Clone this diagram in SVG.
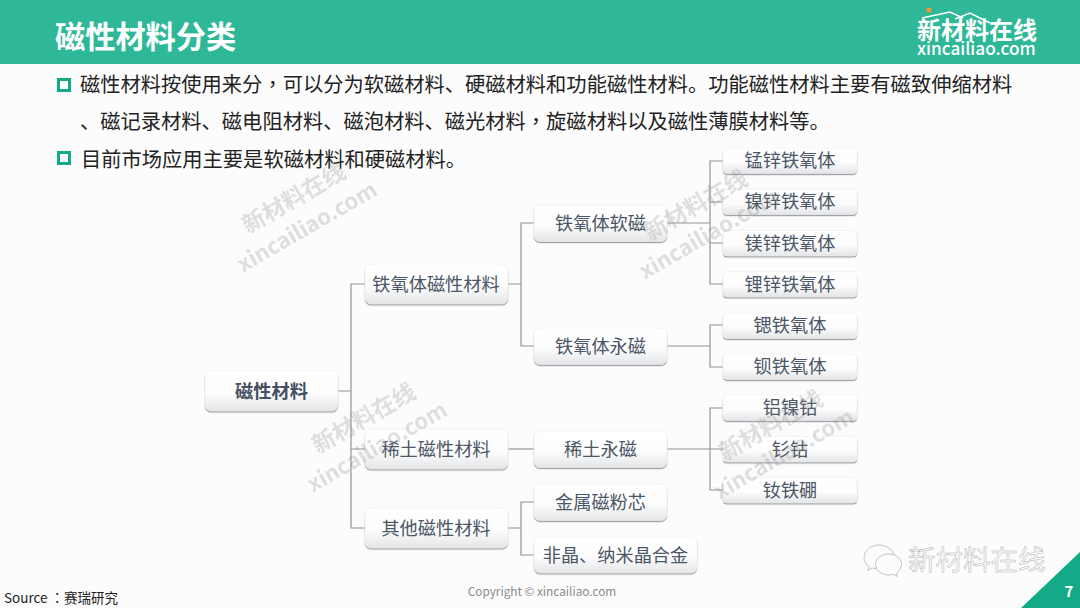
<svg xmlns="http://www.w3.org/2000/svg" width="1080" height="608" viewBox="0 0 1080 608">
<style>
text{font-family:"Noto Sans CJK SC","Noto Sans",sans-serif}
.box{fill:url(#ng);stroke:#eeeeee;stroke-width:.6;filter:url(#sh)}
.lb{font-size:18.2px;fill:#4b5666;text-anchor:middle}
.body{font-size:20.27px;fill:#222222}
.tc{font-family:"Noto Sans CJK TC",sans-serif}
.bul{fill:none;stroke:#14a987;stroke-width:3}
.con{fill:none;stroke:#8e939a;stroke-width:1.2}
.wm{font-weight:700;fill:#8f8f8f;opacity:.27}
</style>
<defs>
<linearGradient id="ng" x1="0" y1="0" x2="0" y2="1"><stop offset="0" stop-color="#ffffff"/><stop offset=".55" stop-color="#fdfdfd"/><stop offset="1" stop-color="#e4e5e7"/></linearGradient>
<filter id="sh" x="-5%" y="-10%" width="110%" height="125%"><feDropShadow dx="0" dy="1.2" stdDeviation=".7" flood-color="#555b66" flood-opacity=".65"/></filter>
</defs>
<rect width="1080" height="608" fill="#fcfcfc"/>
<g id="header">
<rect width="1080" height="64" fill="#2eb897"/>
<text x="55" y="48" font-size="30.2" font-weight="700" fill="#ffffff">磁性材料分类</text>
</g>
<g id="logo">
<path d="M922 18L950 12L963 18M955 19L970 13L990 23" fill="none" stroke="#ffffff" stroke-width="1.4"/>
<circle cx="929" cy="10" r="2.6" fill="#ee9a2c"/>
<text x="917" y="39" font-size="24" font-weight="700" fill="#ffffff">新材料在线</text>
<text x="917" y="55" font-size="17.200" font-weight="500" fill="#ffffff" font-family="'Noto Sans',sans-serif">xincailiao.com</text>
</g>
<g id="body-text">
<rect class="bul" x="58.500" y="79.500" width="11" height="11"/>
<text class="body" x="80" y="92">磁性材料按使用来分<tspan class="tc">，</tspan>可以分为软磁材料、硬磁材料和功能磁性材料。功能磁性材料主要有磁致伸缩材料</text>
<text class="body" x="80" y="129">、磁记录材料、磁电阻材料、磁泡材料、磁光材料<tspan class="tc">，</tspan>旋磁材料以及磁性薄膜材料等。</text>
<rect class="bul" x="58.500" y="152.500" width="11" height="11"/>
<text class="body" x="81" y="167">目前市场应用主要是软磁材料和硬磁材料。</text>
</g>
<g id="connectors">
<path class="con" d="M338 391H351M365 284H351V528H365M351 449H365"/>
<path class="con" d="M508 284H521M534 223H521V346H534"/>
<path class="con" d="M508 449H534"/>
<path class="con" d="M508 528H521M534 502H521V555H534"/>
<path class="con" d="M667 223H710M723 161H710V284H723M710 202H723M710 243H723"/>
<path class="con" d="M667 346H710M723 325H710V367H723"/>
<path class="con" d="M667 449H723M723 408H710V490H723"/>
</g>
<g id="n-root"><rect class="box" x="205" y="371" width="133" height="40" rx="6"/><text class="lb" x="271.500" y="398" font-weight="700" style="fill:#465063">磁性材料</text></g>
<g id="n-ferrite"><rect class="box" x="365" y="264" width="143" height="40" rx="6"/><text class="lb" x="436" y="291">铁氧体磁性材料</text></g>
<g id="n-rare"><rect class="box" x="365" y="429" width="143" height="40" rx="6"/><text class="lb" x="436" y="456">稀土磁性材料</text></g>
<g id="n-other"><rect class="box" x="365" y="508" width="143" height="40" rx="6"/><text class="lb" x="436" y="535">其他磁性材料</text></g>
<g id="n-soft"><rect class="box" x="534" y="205" width="133" height="36.500" rx="6"/><text class="lb" x="600.500" y="230">铁氧体软磁</text></g>
<g id="n-hard"><rect class="box" x="534" y="328" width="133" height="36.500" rx="6"/><text class="lb" x="600.500" y="353">铁氧体永磁</text></g>
<g id="n-rarehard"><rect class="box" x="534" y="431" width="133" height="36.500" rx="6"/><text class="lb" x="600.500" y="456">稀土永磁</text></g>
<g id="n-powder"><rect class="box" x="534" y="484" width="133" height="36.500" rx="6"/><text class="lb" x="600.500" y="509">金属磁粉芯</text></g>
<g id="n-amorph"><rect class="box" x="534" y="537" width="163" height="36" rx="6"/><text class="lb" x="615.500" y="562">非晶、纳米晶合金</text></g>
<g id="n-mnzn"><rect class="box" x="723" y="148" width="134" height="25.500" rx="4"/><text class="lb" x="790" y="167">锰锌铁氧体</text></g>
<g id="n-nizn"><rect class="box" x="723" y="189" width="134" height="25.500" rx="4"/><text class="lb" x="790" y="208">镍锌铁氧体</text></g>
<g id="n-mgzn"><rect class="box" x="723" y="230.500" width="134" height="25.500" rx="4"/><text class="lb" x="790" y="249.500">镁锌铁氧体</text></g>
<g id="n-lizn"><rect class="box" x="723" y="271.500" width="134" height="25.500" rx="4"/><text class="lb" x="790" y="290.500">锂锌铁氧体</text></g>
<g id="n-sr"><rect class="box" x="723" y="313" width="134" height="25.500" rx="4"/><text class="lb" x="790" y="332">锶铁氧体</text></g>
<g id="n-ba"><rect class="box" x="723" y="354" width="134" height="25.500" rx="4"/><text class="lb" x="790" y="373">钡铁氧体</text></g>
<g id="n-alnico"><rect class="box" x="723" y="395" width="134" height="25.500" rx="4"/><text class="lb" x="790" y="414">铝镍钴</text></g>
<g id="n-smco"><rect class="box" x="723" y="436.500" width="134" height="25.500" rx="4"/><text class="lb" x="790" y="455.500">钐钴</text></g>
<g id="n-ndfeb"><rect class="box" x="723" y="477.500" width="134" height="25.500" rx="4"/><text class="lb" x="790" y="496.500">钕铁硼</text></g>
<g id="watermarks">
<g transform="translate(248 234) rotate(-30)"><text class="wm" font-size="23">新材料在线</text><text class="wm" font-size="22" x="-24" y="31" font-family="'Noto Sans',sans-serif">xincailiao.com</text></g>
<g transform="translate(650 241) rotate(-30)"><text class="wm" font-size="23">新材料在线</text><text class="wm" font-size="22" x="-24" y="31" font-family="'Noto Sans',sans-serif">xincailiao.com</text></g>
<g transform="translate(318 454) rotate(-30)"><text class="wm" font-size="23">新材料在线</text><text class="wm" font-size="22" x="-24" y="31" font-family="'Noto Sans',sans-serif">xincailiao.com</text></g>
<g transform="translate(725 461) rotate(-30)"><text class="wm" font-size="23">新材料在线</text><text class="wm" font-size="22" x="-24" y="31" font-family="'Noto Sans',sans-serif">xincailiao.com</text></g>
</g>
<g id="wechat-mark" fill="#fbfbfb" stroke="#c4c4c4" stroke-width="1">
<path d="M879 545c-8 0-15 5.500-15 12.500c0 4 2 7 5 9l-1 4l4.500-2.500c2 .6 4 .9 6 .8c-1-6 5-13 16-13c-1.500-6-8-10.800-15.500-10.800z"/>
<path d="M889 554c-7.500 0-13.500 4.500-13.500 10.500s6 10.500 13.500 10.500c1.500 0 3-.2 4.500-.7l4 2.200l-1-3.500c3-2 5-5 5-8.500c0-6-5.500-10.500-12.500-10.500z"/>
<text x="908" y="570" font-size="27.500" stroke="#b5b5b5" stroke-width=".5" fill="#fafafa">新材料在线</text>
</g>
<g id="footer">
<text x="4" y="603" font-size="13.500" fill="#222222">Source <tspan class="tc">：</tspan>赛瑞研究</text>
<text x="542" y="596" font-size="11.800" fill="#8a8a8a" text-anchor="middle" font-family="'Noto Sans',sans-serif">Copyright © xincailiao.com</text>
<polygon points="1021,608 1080,552 1080,608" fill="#14a987"/>
<text x="1069" y="597" font-size="15" font-weight="700" fill="#ffffff" text-anchor="middle">7</text>
</g>
</svg>
